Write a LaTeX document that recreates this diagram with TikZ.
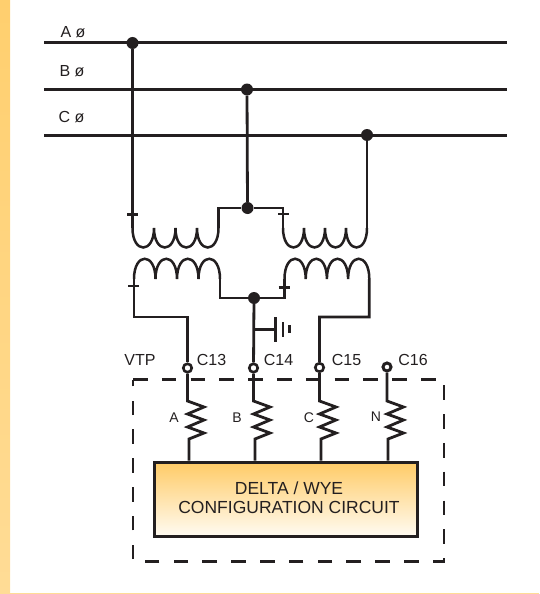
\documentclass[tikz,border=0pt]{standalone}
\usepackage{fontspec}
\setmainfont{Liberation Sans}
\usetikzlibrary{positioning, calc}
\definecolor{inkblack}{HTML}{231F20}
\definecolor{stripcol}{HTML}{FFCF6E}
\definecolor{stripend}{HTML}{FFDC96}
\definecolor{boxtop}{HTML}{FFCB66}
\definecolor{boxend}{HTML}{FFFBF2}
\tikzset{
	bus/.style={draw=inkblack, line width=3pt},
	wire/.style={draw=inkblack, line width=2.8pt, line join=miter},
	tick/.style={draw=inkblack, line width=2.2pt},
	junction/.style={circle, fill=inkblack, inner sep=0pt, minimum size=12pt},
	terminal/.style={circle, draw=inkblack, fill=white, line width=2.6pt, inner sep=0pt, minimum size=8.5pt},
	lab/.style={text=inkblack, inner sep=0pt, font=\fontsize{16}{18}\selectfont},
	smalllab/.style={text=inkblack, inner sep=0pt, font=\fontsize{14}{16}\selectfont},
}
\begin{document}
\begin{tikzpicture}[x=1pt, y=-1pt]
	\useasboundingbox (0,0) rectangle (539,594);
	\fill[top color=stripcol, bottom color=stripend] (0,0) rectangle (10,594);
	\fill[stripend] (0,592.5) rectangle (539,594);

	% phase buses
	\coordinate (aw) at (44,42.5);
	\coordinate (ae) at (507,42.5);
	\coordinate (bw) at (44,89.5);
	\coordinate (be) at (507,89.5);
	\coordinate (cw) at (44,135);
	\coordinate (ce) at (507,135);
	\draw[bus] (aw) to (ae);
	\draw[bus] (bw) to (be);
	\draw[bus] (cw) to (ce);
	\node (la) at (73,32) [lab] {A ø};
	\node (lb) at (72,71) [lab] {B ø};
	\node (lc) at (71.5,117) [lab] {C ø};

	\node (ja) at (132.5,43) [junction] {};
	\node (jb) at (247,89.5) [junction] {};
	\node (jc) at (367,135) [junction] {};
	\node (jt) at (247.5,208) [junction] {};
	\node (jn) at (254,298) [junction] {};

	% primary and secondary windings
	\foreach \nm/\x/\y/\w/\d in {pl/132.5/228/21.5/26, pr/283/228/21/26, sl/134/279/21.5/-27, sr/284.5/279/21.2/-27}{
		\coordinate (\nm a) at (\x,\y);
		\coordinate (\nm b) at ({\x+4*\w},\y);
		\draw[wire, line width=2.5pt] (\x,\y)
			.. controls +(0,\d) and +(0,\d) .. ++(\w,0)
			.. controls +(0,\d) and +(0,\d) .. ++(\w,0)
			.. controls +(0,\d) and +(0,\d) .. ++(\w,0)
			.. controls +(0,\d) and +(0,\d) .. ++(\w,0);
	}
	\draw[wire] (ja) to (pla);
	\draw[wire] (jc) to (prb);
	\draw[wire] (jb) to (jt);
	\draw[wire] (plb) |- (jt);
	\draw[wire] (pra) |- (jt);
	\draw[wire] (slb) |- (jn);
	\draw[wire] (sra) |- (jn);

	% polarity ticks
	\foreach \nm/\x/\y in {ta/132.5/214.5, tb/283.5/214, tc/133.5/286, td/284/287.5}{
		\coordinate (\nm w) at ({\x-5.5},\y);
		\coordinate (\nm e) at ({\x+5.5},\y);
		\draw[tick] (\nm w) to (\nm e);
	}

	% dashed enclosure
	\coordinate (dnw) at (133,379.5);
	\coordinate (dne) at (444,379.5);
	\coordinate (dse) at (444,561.5);
	\coordinate (dsw) at (133,561.5);
	\draw[draw=inkblack, line width=2.6pt, dash pattern=on 14.6pt off 14.2pt] (dnw) -- (dne) -- (dse) -- (dsw) -- cycle;

	% terminals
	\coordinate (slc) at (134,317);
	\coordinate (slk) at (187.5,317);
	\coordinate (src) at (369.3,317);
	\coordinate (srk) at (319.5,317);
	\node (c13) at (187.5,368) [terminal] {};
	\node (c14) at (253.5,368) [terminal] {};
	\node (c15) at (319.5,367.5) [terminal] {};
	\node (c16) at (387,367) [terminal, line width=3pt, minimum size=8pt] {};
	\node (vtp) at (140,360) [lab] {VTP};
	\node (l13) at (211.5,360) [lab] {C13};
	\node (l14) at (278.5,360) [lab] {C14};
	\node (l15) at (346.5,360) [lab] {C15};
	\node (l16) at (413,360) [lab] {C16};

	\draw[wire] (sla) to (slc) to (slk) to (c13);
	\draw[wire] (srb) to (src) to (srk) to (c15);
	\draw[wire] (jn) to (c14);

	% ground symbol
	\coordinate (gtap) at (254,329.5);
	\coordinate (g1) at (275.5,329.5);
	\draw[wire, line width=2.2pt] (gtap) to (g1);
	\draw[wire, line width=2.4pt] (275.5,317) to (275.5,342);
	\draw[wire, line width=2.4pt] (283,322) to (283,337);
	\draw[wire, line width=2.4pt] (289.5,325) to (289.5,333);

	% configuration block
	\node (circuit) at (285.5,499) [draw=inkblack, line width=3pt, top color=boxtop, bottom color=boxend, minimum width=263pt, minimum height=74pt, inner sep=0pt] {};
	\node (t1) at (289,488) [lab, font=\fontsize{17.5}{20}\selectfont] {DELTA / WYE};
	\node (t2) at (289,507) [lab, font=\fontsize{17.5}{20}\selectfont] {CONFIGURATION CIRCUIT};

	% burden resistors
	\foreach \nm/\tm/\x/\xb/\lx/\ly in {A/c13/187.5/189/174/418, B/c14/253.5/255/237/418, C/c15/319.5/321/309/418, N/c16/387/388/376/417}{
		\coordinate (r\nm) at (\x,401);
		\coordinate (b\nm) at (\xb,439);
		\draw[wire] (\tm) to (r\nm) -- ({\x+16.5},407) -- (\x,414) -- ({\x+16.5},420) -- (\x,427) -- ({\x+16.5},433) -- (b\nm) to (b\nm |- circuit.north);
		\node (n\nm) at (\lx,\ly) [smalllab] {\nm};
	}
\end{tikzpicture}
\end{document}
